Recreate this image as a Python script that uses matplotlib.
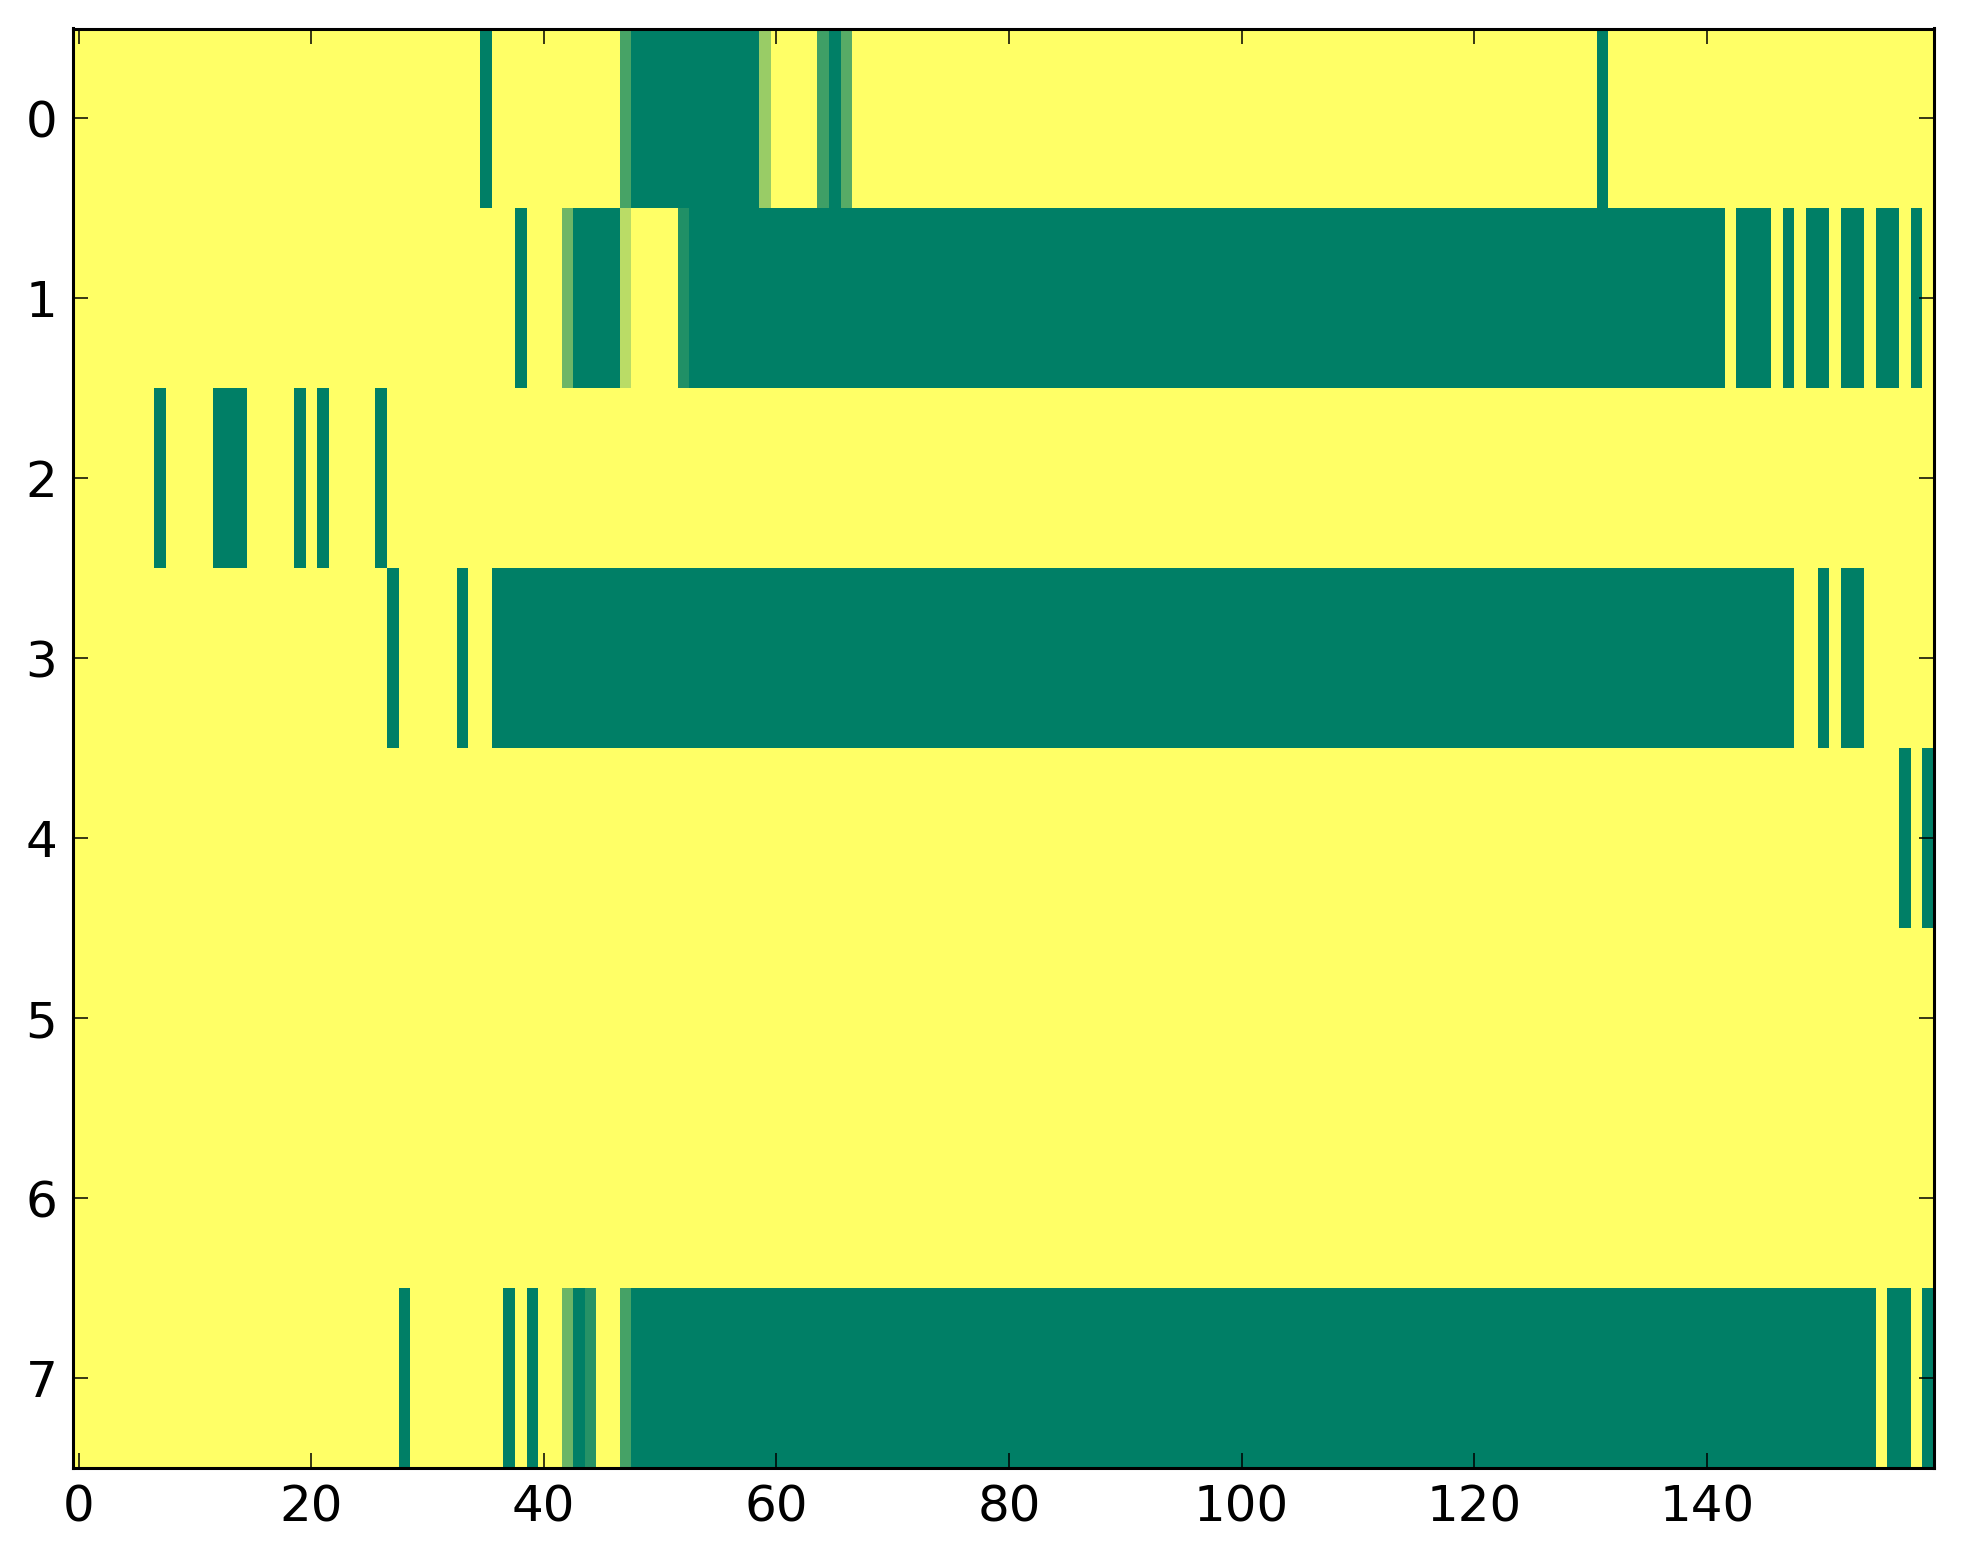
import numpy as np
import matplotlib
matplotlib.use("Agg")
import matplotlib.pyplot as plt

n_rows = 8
n_cols = 160

# Non-zero cells per row: (first_col, last_col, value)
row0_runs = [(35, 35, 1.0), (47, 47, 0.72), (48, 58, 1.0), (59, 59, 0.40),
             (64, 64, 0.75), (65, 65, 1.0), (66, 66, 0.66), (131, 131, 1.0)]
row1_runs = [(38, 38, 1.0), (42, 42, 0.57), (43, 46, 1.0), (47, 47, 0.27),
             (52, 52, 0.87), (53, 141, 1.0), (143, 145, 1.0), (147, 147, 1.0),
             (149, 150, 1.0), (152, 153, 1.0), (155, 156, 1.0), (158, 158, 1.0)]
row2_runs = [(7, 7, 1.0), (12, 14, 1.0), (19, 19, 1.0), (21, 21, 1.0), (26, 26, 1.0)]
row3_runs = [(27, 27, 1.0), (33, 33, 1.0), (36, 147, 1.0), (150, 150, 1.0),
             (152, 153, 1.0)]
row4_runs = [(157, 157, 1.0), (159, 159, 1.0)]
row5_runs = []
row6_runs = []
row7_runs = [(28, 28, 1.0), (37, 37, 1.0), (39, 39, 1.0), (42, 42, 0.58),
             (43, 43, 1.0), (44, 44, 0.85), (47, 47, 0.73), (48, 154, 1.0),
             (156, 157, 1.0), (159, 159, 1.0)]

all_runs = [row0_runs, row1_runs, row2_runs, row3_runs,
            row4_runs, row5_runs, row6_runs, row7_runs]

xticks = [0, 20, 40, 60, 80, 100, 120, 140]
yticks = [0, 1, 2, 3, 4, 5, 6, 7]

data = np.zeros((n_rows, n_cols))
for r, runs in enumerate(all_runs):
    for a, b, v in runs:
        data[r, a:b + 1] = v

plt.rcParams['font.family'] = ['DejaVu Sans']

W, H = 1963, 1564
fig = plt.figure(figsize=(W / 100, H / 100), dpi=100)
left, right = 72.7 / W, 1933.5 / W
top, bottom = 1 - 28.5 / H, 1 - 1468.3 / H
ax = fig.add_axes([left, bottom, right - left, top - bottom])

ax.imshow(data, cmap='summer_r', vmin=0, vmax=1, aspect='auto',
          interpolation='nearest')

ax.set_xticks(xticks)
ax.set_yticks(yticks)
ax.tick_params(direction='in', length=10.8, width=1.1, pad=11,
               labelsize=36, top=True, right=True)
for s in ax.spines.values():
    s.set_linewidth(2.2)

fig.savefig('out.png', dpi=100)
